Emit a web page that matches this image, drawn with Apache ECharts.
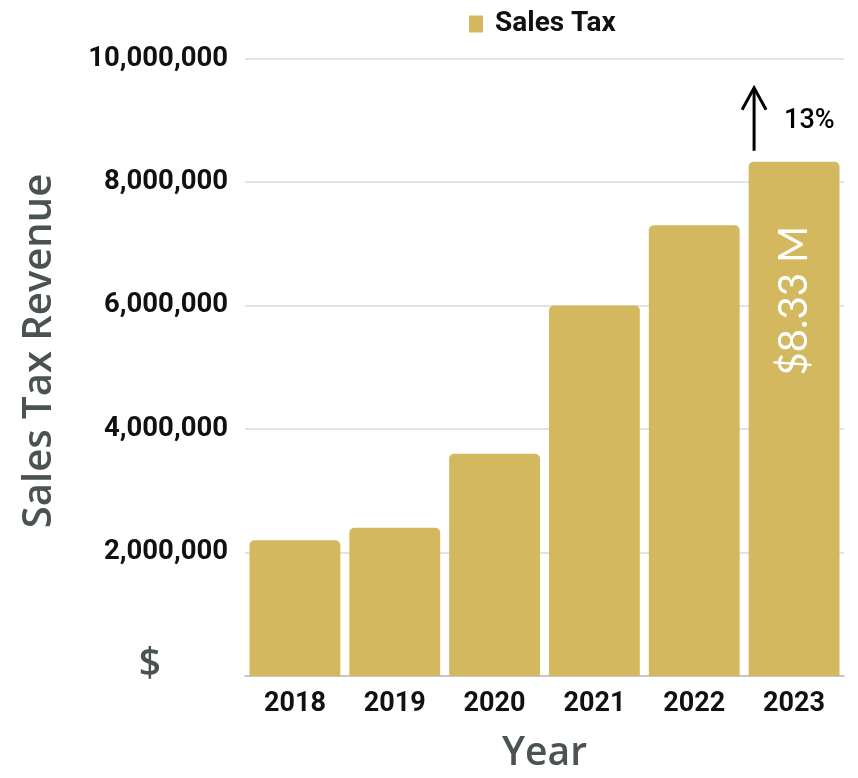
<!DOCTYPE html>
<html><head><meta charset="utf-8">
<script src="https://cdn.jsdelivr.net/npm/echarts@6/dist/echarts.min.js"></script>
<style>html,body{margin:0;padding:0;background:#fff;overflow:hidden}#c{width:858px;height:778px}</style>
</head><body><div id="c"></div>
<script>
const years = ['2018', '2019', '2020', '2021', '2022', '2023'];
const salesTax = [2200000, 2400000, 3600000, 6000000, 7300000, 8330000];
const yTicks = [0, 2000000, 4000000, 6000000, 8000000, 10000000];
const yTickLabels = ['', '2,000,000', '4,000,000', '6,000,000', '8,000,000', '10,000,000'];
const highlightLabel = '$8.33 M';
const changeLabel = '13%';
const seriesName = 'Sales Tax';
const yTitle = 'Sales Tax Revenue';
const xTitle = 'Year';
const unitLabel = '$';

const GOLD = '#D4B860';
const TITLE_GREY = '#4B5350';
const FONT = 'Roboto';
const chart = echarts.init(document.getElementById('c'), null, {renderer: 'canvas'});
const last = salesTax.length - 1;

chart.setOption({
  animation: false,
  backgroundColor: '#fff',
  legend: {
    data: [seriesName], left: 464, top: 5, itemWidth: 14, itemHeight: 17, icon: 'rect',
    textStyle: {fontFamily: FONT, fontWeight: 'bold', fontSize: 28, color: '#111', padding: [0, 0, 0, 7]}
  },
  grid: {left: 245, right: 14, top: 58.7, bottom: 92.3, containLabel: false},
  xAxis: {
    type: 'category', data: years, name: xTitle, nameLocation: 'middle', nameGap: 58,
    nameTextStyle: {fontFamily: 'Open Sans', fontWeight: 600, fontSize: 39, color: TITLE_GREY},
    axisTick: {show: false},
    axisLine: {lineStyle: {color: '#bdbdbd', width: 1.5}},
    axisLabel: {fontFamily: FONT, fontWeight: 'bold', fontSize: 27, color: '#111', margin: 15}
  },
  yAxis: {
    type: 'value', min: 0, max: 10000000, interval: 2000000,
    axisLine: {show: false}, axisTick: {show: false},
    splitLine: {lineStyle: {color: '#d9d9d9', width: 1.5}},
    axisLabel: {
      fontFamily: FONT, fontWeight: 'bold', fontSize: 27.5, color: '#111', margin: 17,
      formatter: function (v) { const i = yTicks.indexOf(v); return i >= 0 ? yTickLabels[i] : ''; }
    }
  },
  series: [{
    type: 'bar', name: seriesName, barCategoryGap: '9%',
    itemStyle: {color: GOLD, borderRadius: [5, 5, 0, 0]},
    data: salesTax.map(function (v, i) {
      return i === last ? {
        value: v,
        label: {
          show: true, position: 'insideTop', rotate: 90, align: 'right', verticalAlign: 'middle',
          distance: 64, formatter: highlightLabel, color: '#fff', fontFamily: 'Lato', fontSize: 40
        }
      } : v;
    })
  }]
});

const cx = chart.convertToPixel({xAxisIndex: 0}, years[last]);
const topY = chart.convertToPixel({yAxisIndex: 0}, salesTax[last]);
const ax = cx - 40;
const y1 = topY - 11;
const y2 = y1 - 63;

chart.setOption({
  graphic: [
    {type: 'line', shape: {x1: ax, y1: y1, x2: ax, y2: y2 + 2}, style: {stroke: '#000', lineWidth: 3}},
    {type: 'polyline', shape: {points: [[ax - 12, y2 + 22], [ax, y2], [ax + 12, y2 + 22]]}, style: {stroke: '#000', lineWidth: 3, fill: null}},
    {type: 'text', x: ax + 30, y: y2 + 33, style: {text: changeLabel, fontFamily: 'Roboto', fontWeight: 500, fontSize: 27, fill: '#000', verticalAlign: 'middle'}},
    {type: 'text', x: 40, y: 351, rotation: Math.PI / 2, style: {text: yTitle, fontFamily: 'Open Sans', fontWeight: 600, fontSize: 40, fill: TITLE_GREY, align: 'center', verticalAlign: 'middle'}},
    {type: 'text', x: 150, y: 665, style: {text: unitLabel, fontFamily: 'Open Sans', fontWeight: 600, fontSize: 39, fill: TITLE_GREY, align: 'center', verticalAlign: 'middle'}}
  ]
});
</script>
</body></html>
